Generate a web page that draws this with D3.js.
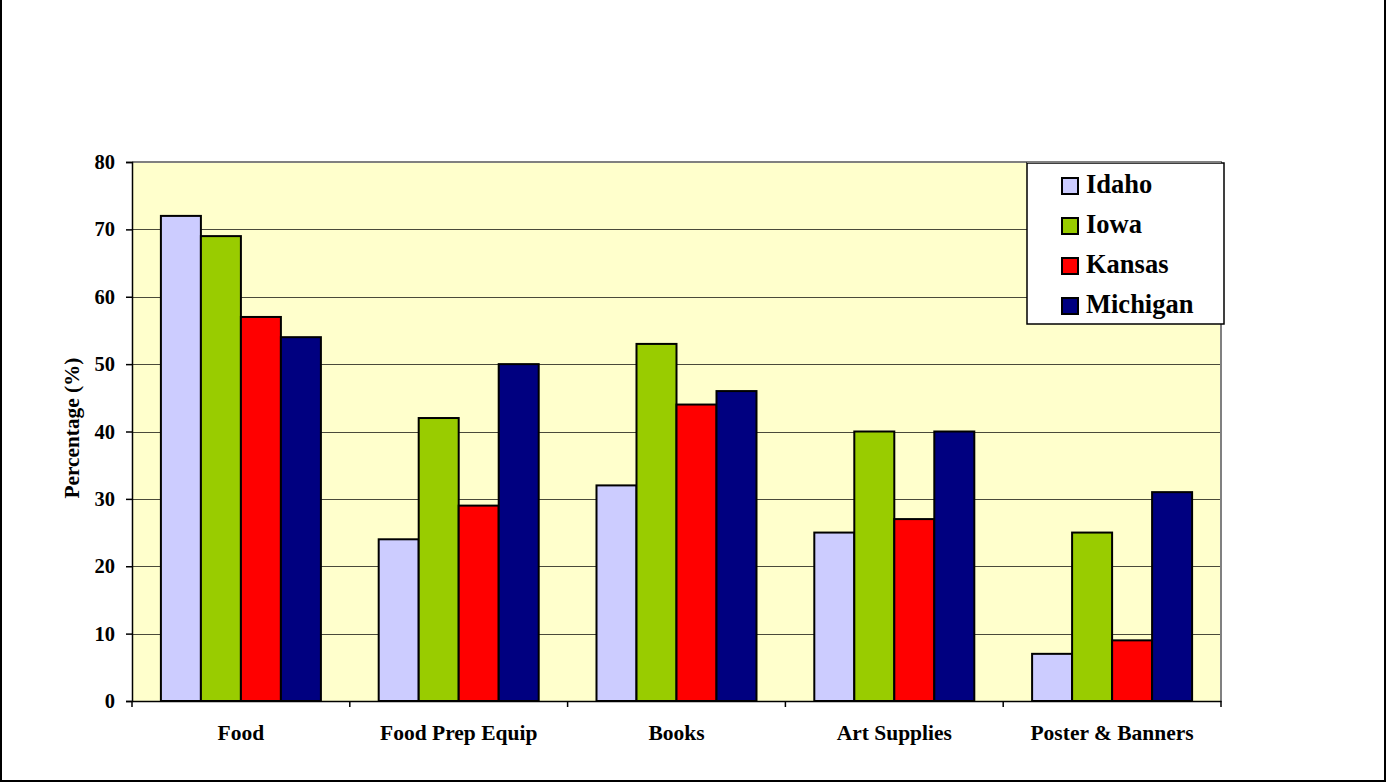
<!DOCTYPE html>
<html>
<head>
<meta charset="utf-8">
<script src="https://cdn.jsdelivr.net/npm/d3@7"></script>
<style>
html, body { margin: 0; padding: 0; background: #fff; }
svg { display: block; }
text { font-family: "Liberation Serif", "Times New Roman", serif; font-weight: bold; fill: #000; }
</style>
</head>
<body>
<svg id="chart" width="1387" height="782"></svg>
<script>
const categories = ["Food", "Food Prep Equip", "Books", "Art Supplies", "Poster & Banners"];
const seriesNames = ["Idaho", "Iowa", "Kansas", "Michigan"];
const idaho = [72, 24, 32, 25, 7];
const iowa = [69, 42, 53, 40, 25];
const kansas = [57, 29, 44, 27, 9];
const michigan = [54, 50, 46, 40, 31];
const yTicks = [0, 10, 20, 30, 40, 50, 60, 70, 80];
const colors = ["#CCCCFF", "#99CC00", "#FF0000", "#000080"];
const yTitle = "Percentage (%)";

(function () {
const seriesValues = [idaho, iowa, kansas, michigan];
const svg = d3.select("#chart");
const FONT = "'Liberation Serif', 'Times New Roman', serif";

// outer frame
svg.append("path").attr("d", "M1,0 V781 H1385 V0")
  .attr("fill", "none").attr("stroke", "#000").attr("stroke-width", 2);

const pL = 132, pR = 1221, pT = 162, pB = 701;
const x0 = d3.scaleBand().domain(categories).range([pL, pR]).paddingInner(0).paddingOuter(0);
const x1 = d3.scaleBand().domain(seriesNames).range([0, x0.bandwidth()]).paddingInner(0).paddingOuter(0.7225);
const y = d3.scaleLinear().domain([0, 80]).range([pB, pT]);

// plot background
svg.append("rect").attr("x", pL).attr("y", pT).attr("width", pR - pL).attr("height", pB - pT)
  .attr("fill", "#FFFFCC");

// gridlines
svg.append("g").selectAll("line").data(yTicks.filter(d => d > 0 && d < 80)).join("line")
  .attr("x1", pL).attr("x2", pR)
  .attr("y1", d => Math.round(y(d)) + 0.5).attr("y2", d => Math.round(y(d)) + 0.5)
  .attr("stroke", "#4a4a3a").attr("stroke-width", 1);

// plot border top/right (gray)
svg.append("path").attr("d", `M${pL},${pT} H${pR} V${pB}`)
  .attr("fill", "none").attr("stroke", "#808080").attr("stroke-width", 2);

// bars
const groups = svg.append("g").selectAll("g").data(categories).join("g")
  .attr("transform", d => `translate(${x0(d)},0)`);
groups.selectAll("rect").data((c, i) => seriesNames.map((s, j) => ({ s, v: seriesValues[j][i], j })))
  .join("rect")
  .attr("x", d => x1(d.s))
  .attr("y", d => y(d.v))
  .attr("width", x1.bandwidth())
  .attr("height", d => pB - y(d.v))
  .attr("fill", d => colors[d.j])
  .attr("stroke", "#000").attr("stroke-width", 2);

// y axis
const yAxis = d3.axisLeft(y).tickValues(yTicks).tickSize(6).tickPadding(11).tickFormat(d3.format("d"));
const gy = svg.append("g").attr("transform", `translate(${pL},0)`).call(yAxis);
gy.attr("font-family", null);
gy.select(".domain").attr("stroke", "#000").attr("stroke-width", 1.5);
gy.selectAll(".tick line").attr("stroke", "#000").attr("stroke-width", 1.5);
gy.selectAll(".tick text").style("font-size", "20.5px").style("font-family", FONT).style("font-weight", "bold");

// x axis
const xAxis = d3.axisBottom(x0).tickSize(0).tickPadding(0);
const gx = svg.append("g").attr("transform", `translate(0,${pB})`).call(xAxis);
gx.select(".domain").attr("stroke", "#000").attr("stroke-width", 1.5);
gx.selectAll(".tick text").remove();
const bounds = categories.map(c => x0(c)).concat([pR]);
gx.selectAll(".btick").data(bounds).join("line").attr("class", "btick")
  .attr("x1", d => d).attr("x2", d => d).attr("y1", 0).attr("y2", 6)
  .attr("stroke", "#000").attr("stroke-width", 1.5);
// category labels
svg.append("g").selectAll("text").data(categories).join("text")
  .attr("x", d => x0(d) + x0.bandwidth() / 2)
  .attr("y", 740)
  .attr("text-anchor", "middle")
  .style("font-size", "21.5px")
  .text(d => d);

// y title
svg.append("text")
  .attr("transform", "translate(79,428) rotate(-90)")
  .attr("text-anchor", "middle")
  .style("font-size", "21.3px")
  .text(yTitle);

// legend
const lg = svg.append("g");
lg.append("rect").attr("x", 1027).attr("y", 163).attr("width", 197).attr("height", 161)
  .attr("fill", "#fff").attr("stroke", "#000").attr("stroke-width", 1.5);
const items = lg.selectAll("g").data(seriesNames).join("g")
  .attr("transform", (d, i) => `translate(0,${193 + i * 40})`);
items.append("rect").attr("x", 1062).attr("y", -15).attr("width", 16).attr("height", 16)
  .attr("fill", (d, i) => colors[i]).attr("stroke", "#000").attr("stroke-width", 2);
items.append("text").attr("x", 1086).attr("y", 0).style("font-size", "26.5px").text(d => d);
svg.append("line").attr("x1", 1027).attr("x2", pR).attr("y1", pT).attr("y2", pT)
  .attr("stroke", "#808080").attr("stroke-width", 2);
})();
</script>
</body>
</html>
